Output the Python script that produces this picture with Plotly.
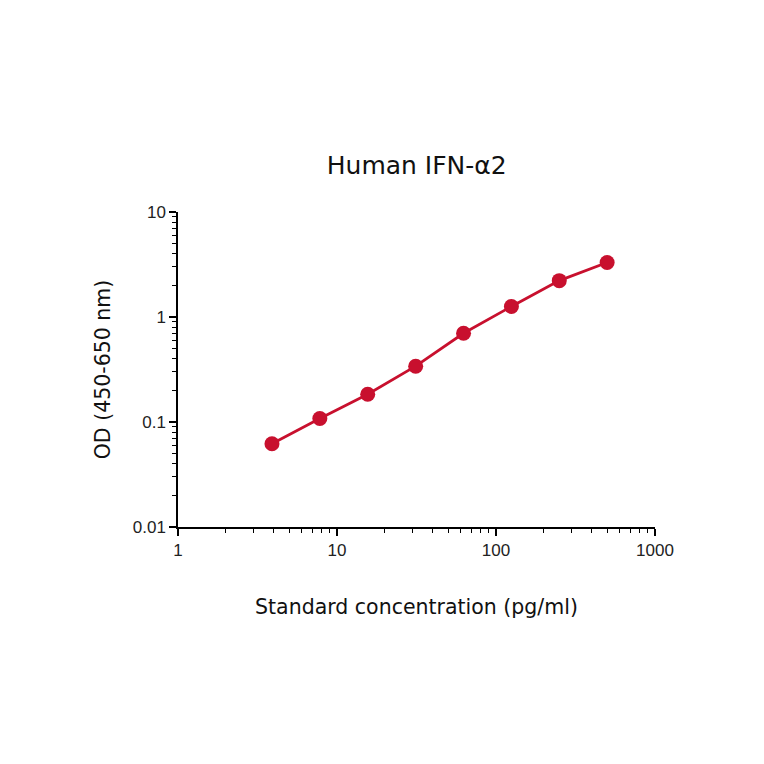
import plotly.graph_objects as go

# Standard curve data
concentration = [3.9, 7.8, 15.6, 31.25, 62.5, 125, 250, 500]
od_values = [0.062, 0.108, 0.184, 0.34, 0.70, 1.26, 2.22, 3.3]

x_tickvals = [1, 10, 100, 1000]
x_ticktext = ["1", "10", "100", "1000"]
y_tickvals = [0.01, 0.1, 1, 10]
y_ticktext = ["0.01", "0.1", "1", "10"]

# minor ticks at 2..9 of every decade
x_minor = [m * d for d in (1, 10, 100) for m in range(2, 10)]
y_minor = [m * d for d in (0.01, 0.1, 1) for m in range(2, 10)]

red = "#C8102E"
title_font = "DejaVu Sans, Verdana"

fig = go.Figure()
fig.add_trace(go.Scatter(
    x=concentration,
    y=od_values,
    mode="lines+markers",
    line=dict(color=red, width=2.8),
    marker=dict(color=red, size=15),
    showlegend=False
))

axis_common = dict(
    type="log",
    showline=True,
    linecolor="black",
    linewidth=1.5,
    ticks="outside",
    ticklen=7,
    tickwidth=1.5,
    tickcolor="black",
    showgrid=False,
    zeroline=False,
    automargin=False,
    tickmode="array",
    tickfont=dict(family="Liberation Sans, Arial", size=17, color="#222"),
)

fig.update_layout(
    width=764,
    height=764,
    margin=dict(l=170, r=117, t=204, b=245),
    plot_bgcolor="white",
    paper_bgcolor="white",
    title=dict(
        text="Human IFN-α2",
        x=0.535, xanchor="center",
        y=0.7945, yanchor="middle",
        font=dict(family=title_font, size=25, color="#111"),
    ),
    xaxis=dict(
        axis_common,
        range=[0, 3],
        tickvals=x_tickvals,
        ticktext=x_ticktext,
        minor=dict(tickmode="array", tickvals=x_minor, ticks="outside", ticklen=4,
                   tickwidth=1.2, tickcolor="black", showgrid=False),
        title=dict(text="Standard concentration (pg/ml)", standoff=40,
                   font=dict(family=title_font, size=20.5, color="#111")),
    ),
    yaxis=dict(
        axis_common,
        range=[-2, 1],
        tickvals=y_tickvals,
        ticktext=y_ticktext,
        minor=dict(tickmode="array", tickvals=y_minor, ticks="outside", ticklen=4,
                   tickwidth=1.2, tickcolor="black", showgrid=False),
        title=dict(text="OD (450-650 nm)", standoff=17,
                   font=dict(family=title_font, size=20.5, color="#111")),
    ),
)

fig.write_html("out.html")
